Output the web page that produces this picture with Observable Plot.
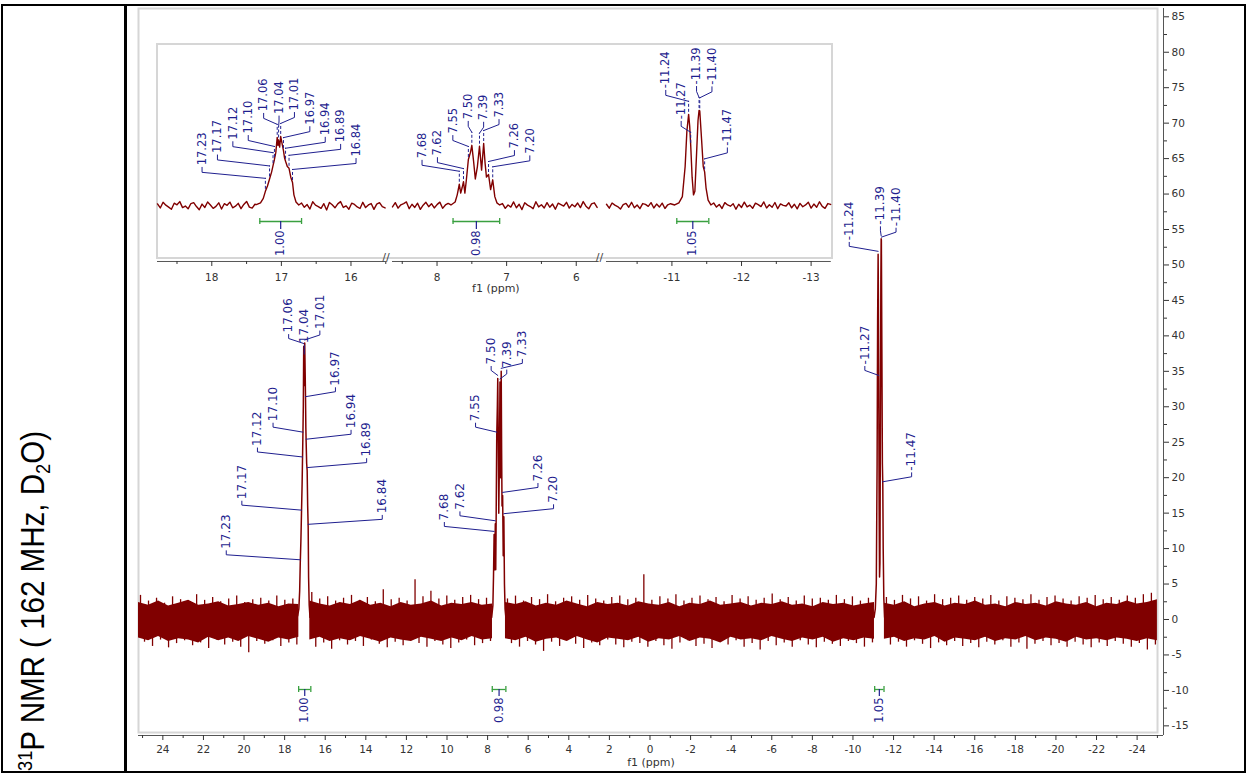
<!DOCTYPE html>
<html><head><meta charset="utf-8">
<script src="https://cdn.jsdelivr.net/npm/d3@7"></script>
<script src="https://cdn.jsdelivr.net/npm/@observablehq/plot@0.6"></script>
<style>
body{margin:0;background:#fff;}
#wrap{position:relative;width:1250px;height:776px;overflow:hidden;background:#fff;}
.abs{position:absolute;}
</style></head><body>
<div id="wrap">
  <div id="main" class="abs" style="left:0;top:0"></div>
  <div id="insetFrame" class="abs" style="left:156px;top:43px;width:677px;height:216px;border:2px solid #d6d6d6;background:#fff;box-sizing:border-box"></div>
  <div id="ins0" class="abs"></div>
  <div id="ins1" class="abs"></div>
  <div id="ins2" class="abs"></div>
  <svg class="abs" style="left:0;top:0" width="125" height="776">
    <text transform="translate(44,771) rotate(-90)" font-family="Liberation Sans, Arial, sans-serif" font-size="34" fill="#000" textLength="340" lengthAdjust="spacingAndGlyphs"><tspan font-size="21" dy="-12">31</tspan><tspan dy="12">P NMR ( 162 MHz, D</tspan><tspan font-size="21" dy="6">2</tspan><tspan dy="-6">O)</tspan></text>
  </svg>
  <div class="abs" style="left:1px;top:4px;width:1245px;height:769px;border:2.5px solid #000;box-sizing:border-box"></div>
  <div class="abs" style="left:124px;top:4px;width:2.5px;height:769px;background:#000"></div>
</div>
<script>
// ================= DATA =================
// Peak profiles (ppm, intensity)
const groupAPpm = [17.36, 17.30, 17.26, 17.23, 17.20, 17.17, 17.14, 17.12, 17.10, 17.08, 17.06, 17.05, 17.04, 17.025, 17.01, 16.99, 16.97, 16.955, 16.94, 16.915, 16.89, 16.865, 16.84, 16.82, 16.79, 16.75];
const groupAInt = [0.5, 1.5, 4, 8, 11, 15, 19, 22.5, 26, 30, 38.5, 34, 37, 33, 39, 35, 31, 27, 25, 22, 21, 16, 13, 6, 2, 0.3];
const groupBPpm = [7.80, 7.74, 7.71, 7.68, 7.66, 7.64, 7.62, 7.60, 7.58, 7.55, 7.52, 7.50, 7.475, 7.45, 7.42, 7.39, 7.36, 7.33, 7.31, 7.29, 7.26, 7.23, 7.20, 7.17, 7.14, 7.10];
const groupBInt = [0.3, 2, 6, 12, 7, 10, 13.5, 7, 14, 26, 30, 34, 25, 15, 22, 33.5, 20, 35, 24, 16, 17.5, 9, 14.5, 5, 1.5, 0.3];
const groupCPpm = [-11.04, -11.10, -11.15, -11.19, -11.215, -11.24, -11.255, -11.27, -11.29, -11.31, -11.33, -11.355, -11.375, -11.39, -11.40, -11.425, -11.45, -11.47, -11.49, -11.52, -11.56];
const groupCInt = [0.3, 1.5, 5, 22, 42, 51.5, 45, 34, 16, 6, 8, 30, 48, 53.7, 53.5, 38, 22, 19, 10, 3, 0.3];

// Peak labels (ppm)
const labelsA = [17.23, 17.17, 17.12, 17.10, 17.06, 17.04, 17.01, 16.97, 16.94, 16.89, 16.84];
const labelsB = [7.68, 7.62, 7.55, 7.50, 7.39, 7.33, 7.26, 7.20];
const labelsC = [-11.24, -11.27, -11.39, -11.40, -11.47];

// Integrals
const integralFrom = [17.31, 7.77, -11.07];
const integralTo = [16.71, 7.10, -11.53];
const integralValue = [1.00, 0.98, 1.05];

// Baseline noise of the full spectrum, per segment between peaks: core envelope
const noiseStart = [25.2, 16.76, 7.12, -11.55];
const noiseEnd = [17.30, 7.76, -11.06, -25.0];
const noiseHi1 = [2.4, 2.0, 2.6, 1.9, 2.3, 2.7, 2.0, 2.2, 2.5, 1.9, 2.1, 2.4, 2.0, 2.3, 1.8, 2.2, 2.1];
const noiseLo1 = [-2.6, -3.0, -2.4, -3.1, -2.7, -2.9, -3.3, -2.5, -3.0, -2.6, -3.1, -2.4, -2.8, -3.2, -2.6, -2.9, -2.5];
const noiseHi2 = [2.6, 2.2, 1.9, 2.4, 2.1, 2.7, 2.0, 2.3, 1.8, 2.4, 2.0, 2.2, 2.6, 1.9, 2.3, 2.1, 2.4, 2.0, 2.2];
const noiseLo2 = [-2.9, -2.5, -3.1, -2.7, -3.0, -2.4, -2.8, -3.2, -2.6, -2.9, -3.1, -2.5, -2.8, -3.1, -2.6, -3.0, -2.4, -2.9, -2.7];
const noiseHi3 = [2.4, 2.1, 2.5, 1.9, 2.3, 2.0, 2.6, 2.2, 1.8, 2.4, 2.1, 2.3, 1.9, 2.5, 2.2, 2.0, 2.4, 1.8, 2.3, 2.1, 2.6, 2.0, 2.2, 2.4, 1.9, 2.3, 2.1, 2.5, 2.0, 2.2, 1.8, 2.4, 2.1, 2.3, 1.9, 2.2, 2.4];
const noiseLo3 = [-2.7, -3.0, -2.5, -3.2, -2.8, -2.6, -3.1, -2.4, -2.9, -3.3, -2.6, -2.8, -3.0, -2.5, -3.2, -2.7, -2.9, -2.4, -3.1, -2.6, -2.8, -3.3, -2.5, -2.9, -2.7, -3.0, -2.4, -2.8, -3.1, -2.6, -2.9, -2.5, -3.2, -2.7, -3.0, -2.6, -2.8];
const noiseHi4 = [2.3, 2.0, 2.5, 1.8, 2.2, 2.4, 1.9, 2.3, 2.1, 2.6, 2.0, 2.2, 1.8, 2.4, 2.1, 2.3, 1.9, 2.5, 2.2, 2.0, 2.4, 1.8, 2.3, 2.1, 2.6, 2.2, 2.4, 2.8];
const noiseLo4 = [-2.8, -2.5, -3.1, -2.7, -2.9, -2.4, -3.2, -2.6, -2.8, -3.0, -2.5, -3.1, -2.7, -2.9, -2.4, -3.0, -2.6, -2.8, -3.2, -2.5, -2.9, -2.7, -3.0, -2.6, -2.8, -3.1, -2.7, -3.0];
// Noise spikes (up / down) per segment, evenly spread along each segment
const spikeUp1 = [3.4, 2.6, 3.0, 2.3, 3.2, 2.8, 2.4, 3.5, 2.7, 3.1, 2.5, 2.9, 3.3, 2.4, 2.8, 3.0, 2.6, 3.3, 2.7, 2.9];
const spikeDn1 = [-3.2, -3.8, -2.9, -4.0, -3.4, -3.0, -3.7, -3.3, -4.1, -2.9, -3.6, -3.2, -3.9, -4.7, -3.1, -3.5, -3.0, -3.8, -3.3, -3.6];
const spikeUp2 = [3.8, 2.9, 3.2, 2.6, 3.0, 3.4, 2.7, 3.1, 2.5, 4.2, 2.8, 3.0, 2.6, 5.6, 3.2, 4.0, 2.9, 3.3, 2.7, 3.1, 3.4, 2.8, 3.0];
const spikeDn2 = [-3.9, -3.3, -4.2, -3.0, -3.6, -3.1, -3.8, -2.9, -3.5, -4.0, -3.2, -3.7, -3.0, -3.4, -3.9, -3.1, -3.6, -4.1, -3.3, -2.9, -3.7, -3.4, -3.1];
const spikeUp3 = [2.9, 3.3, 2.6, 3.1, 2.8, 3.5, 2.5, 3.0, 3.2, 2.7, 3.4, 2.9, 2.6, 3.1, 3.3, 2.8, 3.0, 6.3, 2.7, 3.2, 2.9, 3.5, 2.6, 3.0, 3.3, 2.8, 3.1, 2.5, 3.4, 2.9, 3.2, 2.7, 3.0, 3.6, 2.8, 3.1, 2.6, 3.3, 2.9, 3.0, 2.7, 3.4, 2.8, 3.2, 2.6, 3.0];
const spikeDn3 = [-3.4, -3.9, -3.1, -3.6, -4.5, -3.2, -3.8, -3.0, -3.5, -4.1, -3.3, -3.7, -2.9, -3.6, -4.0, -3.2, -3.4, -3.9, -3.1, -3.7, -4.2, -3.3, -3.0, -3.8, -3.5, -4.1, -3.2, -3.6, -3.0, -3.9, -3.4, -4.3, -3.1, -3.7, -3.3, -3.9, -3.0, -3.6, -4.0, -3.2, -3.5, -3.8, -3.1, -3.4, -3.9, -3.3];
const spikeUp4 = [3.1, 2.7, 3.4, 2.9, 3.2, 2.6, 3.5, 2.8, 3.0, 3.3, 2.7, 3.1, 2.9, 3.4, 2.6, 3.2, 3.0, 2.8, 3.5, 2.7, 3.1, 3.3, 2.9, 2.6, 3.2, 3.0, 3.4, 2.8, 3.1, 2.7, 3.3, 3.0, 3.5, 3.7];
const spikeDn4 = [-3.6, -3.2, -3.9, -3.0, -3.5, -4.1, -3.3, -3.7, -3.1, -3.8, -3.4, -4.0, -3.2, -3.6, -3.0, -3.9, -3.3, -4.2, -3.5, -3.1, -3.7, -3.4, -3.9, -3.2, -3.6, -4.0, -3.3, -3.8, -3.1, -3.5, -3.9, -3.4, -4.3, -3.6];

// Inset: expanded regions (ppm) and their baseline noise traces (0.04 ppm steps)
const insetStart = [18.78, 8.64, -10.06];
const insetEnd = [15.50, 5.67, -13.29];
const insetNoiseA1 = [0.9, -1.4, 1.8, 0.2, -0.9, -2.1, 1.3, 0.4, 2.2, -1.2, -0.3, -1.9, 1.1, 1.6, -0.6, -2.4, 0.8, -1.1, 2.0, 0.3, -1.6, -0.5, 1.5, -2.0, 1.0, 0.1, 1.9, -1.3, -0.4, 1.2, -1.8, 0.6, 2.3, -0.9, -1.5, 0.7];
const insetNoiseA2 = [1.4, -1.0, 0.5, -2.0, 2.1, 0.2, -0.6, -1.6, 1.0, -2.5, 1.7, 0.4, -1.3, 0.9, 2.2, -1.1, -0.2, -2.1, 1.3, 0.6, -0.8, -1.7, 1.8, -1.2, 0.3, 1.1, -2.2, 0.8, 1.6, -0.7, -1.4];
const insetNoiseB1 = [-0.8, 1.6, -1.5, 0.4, 1.1, 2.0, -1.8, 0.7, -1.1, 1.3, -2.2, 0.2, 1.8, -0.7, 1.0, -1.4, 0.5, 1.9, -1.6, 0.3, 1.2];
const insetNoiseB2 = [1.1, -1.6, 0.3, -0.9, 2.0, -1.3, 0.7, -2.3, 1.5, 0.2, -0.6, -1.8, 2.1, -0.8, 0.4, -1.4, 1.6, -1.0, 0.8, -2.1, 1.3, 0.5, -0.3, 1.8, -1.5, 0.6, -0.7, 1.4, -1.2, 2.2, -0.4, -1.9, 0.9, 1.5, -1.1];
const insetNoiseC1 = [0.7, -1.5, 1.4, 0.2, -0.6, -2.0, 0.5, 1.2, -1.0, 1.8, -1.3, 0.3, -1.8, 1.1, 0.6, -0.5, 1.6, -1.4, 0.8, -0.9, 1.3, -1.7, 0.4, 1.0];
const insetNoiseC2 = [1.4, -0.9, 0.6, -1.7, 1.6, 0.3, -0.4, 1.0, -2.1, 0.7, -1.1, 1.9, -0.8, 0.2, -1.6, 1.3, 0.5, -0.6, 2.0, -1.4, 0.4, -1.0, 1.7, -1.8, 0.9, 0.1, -0.3, 1.5, -1.3, 0.7, -1.9, 1.2, -0.7, 0.3, 1.8, -1.5, 0.8, -1.0, 2.1, -0.5, -1.6, 1.1, 0.6];

// Axis ticks
const xTicksMain = d3.range(-24, 25, 2);
const xMinorMain = d3.range(-25, 26, 2);
const yTicksMain = d3.range(-15, 86, 5);
const yMinorMain = d3.range(-12.5, 86, 5);

// ================= STYLE / LAYOUT =================
const RED = "#800000", BLUE = "#1f1f8f", GREEN = "#3aa040", AXIS = "#333";
const FONT = "DejaVu Sans, Verdana, sans-serif";
const fmt = v => String(v);

const groups = [
  {ppm: groupAPpm, int: groupAInt, labels: labelsA},
  {ppm: groupBPpm, int: groupBInt, labels: labelsB},
  {ppm: groupCPpm, int: groupCInt, labels: labelsC}
];
const heightAt = (g, p) => g.int[g.ppm.findIndex(v => Math.abs(v - p) < 1e-9)];

function buildLabels(gi, pxX, pxY, o) {
  const g = groups[gi], n = g.labels.length, c = d3.mean(g.labels);
  const texts = [], leaders = [], stems = [];
  g.labels.forEach((p, i) => {
    const h = heightAt(g, p);
    const lx = c - (i - (n - 1) / 2) * o.spacing / pxX;
    const u = px => h + px / pxY;
    const k = gi + "-" + i;
    texts.push({x: lx, y: u(o.text), t: p.toFixed(2)});
    leaders.push({x: p, y: u(o.lead0), k}, {x: lx, y: u(o.lead1), k}, {x: lx, y: u(o.hook), k});
    if (o.stem) stems.push({x: p, y1: u(2), y2: u(o.lead0)});
  });
  return {texts, leaders, stems};
}

function integralMarks(idx, pxY, level, textGap, stemLen) {
  const rows = idx.map(i => ({a: integralFrom[i], b: integralTo[i], c: (integralFrom[i] + integralTo[i]) / 2, v: integralValue[i].toFixed(2)}));
  const cap = 3 / pxY;
  return [
    Plot.ruleY(rows, {x1: "a", x2: "b", y: level, stroke: GREEN, strokeWidth: 1.3}),
    Plot.ruleX(rows, {x: "a", y1: level - cap, y2: level + cap, stroke: GREEN, strokeWidth: 1.3}),
    Plot.ruleX(rows, {x: "b", y1: level - cap, y2: level + cap, stroke: GREEN, strokeWidth: 1.3}),
    Plot.ruleX(rows, {x: "c", y1: level, y2: level - stemLen / pxY, stroke: BLUE, strokeWidth: 1.2}),
    Plot.text(rows, {x: "c", y: level - textGap / pxY, text: "v", rotate: -90, textAnchor: "end", fill: BLUE, fontSize: 11.5, fontFamily: FONT})
  ];
}

// ================= MAIN SPECTRUM =================
{
  const left = 138, right = 1163, top = 8, bottom = 735;
  const xDom = [25.2, -25.3], yDom = [-16.36, 86.17];
  const pxX = (right - left) / (xDom[0] - xDom[1]);
  const pxY = (bottom - top) / (yDom[1] - yDom[0]);

  const his = [noiseHi1, noiseHi2, noiseHi3, noiseHi4], los = [noiseLo1, noiseLo2, noiseLo3, noiseLo4];
  const noise = his.flatMap((hi, s) => hi.map((h, k) => ({
    ppm: noiseStart[s] + (noiseEnd[s] - noiseStart[s]) * k / (hi.length - 1), hi: h, lo: los[s][k], s
  })));
  const ups = [spikeUp1, spikeUp2, spikeUp3, spikeUp4], dns = [spikeDn1, spikeDn2, spikeDn3, spikeDn4];
  const spikes = [];
  ups.forEach((arr, s) => {
    const step = (noiseEnd[s] - noiseStart[s]) / arr.length;
    arr.forEach((v, k) => spikes.push({p: noiseStart[s] + step * (k + 0.25), v}));
    dns[s].forEach((v, k) => spikes.push({p: noiseStart[s] + step * (k + 0.75), v}));
  });
  const profile = groups.flatMap((g, gi) => g.ppm.map((p, i) => ({p, v: g.int[i], gi})));

  const lab = [0, 1, 2].map(gi => buildLabels(gi, pxX, pxY, {spacing: 15.6, lead0: 3, lead1: 8, hook: 12, text: 14}));
  const texts = lab.flatMap(d => d.texts), leaders = lab.flatMap(d => d.leaders);
  const intLevel = yDom[0] + 46 / pxY;

  const chart = Plot.plot({
    width: 1250, height: 776,
    marginLeft: left, marginRight: 1250 - right, marginTop: top, marginBottom: 776 - bottom,
    x: {domain: xDom}, y: {domain: yDom},
    style: {background: "transparent", color: AXIS, fontFamily: FONT, fontSize: "10.5px", overflow: "visible"},
    marks: [
      Plot.frame({stroke: "#d6d6d6", strokeWidth: 2, insetRight: 6, insetBottom: 3}),
      Plot.areaY(noise, {x: "ppm", y1: "lo", y2: "hi", z: "s", fill: RED}),
      Plot.ruleX(spikes, {x: "p", y1: 0, y2: "v", stroke: RED, strokeWidth: 1.3}),
      Plot.line(profile, {x: "p", y: "v", z: "gi", stroke: RED, strokeWidth: 1.5}),
      Plot.line(leaders, {x: "x", y: "y", z: "k", stroke: BLUE, strokeWidth: 1}),
      Plot.text(texts, {x: "x", y: "y", text: "t", rotate: -90, textAnchor: "start", fill: BLUE, fontSize: 12, fontFamily: FONT}),
      ...integralMarks([0, 1, 2], pxY, intLevel, 8, 7),
      Plot.ruleY([yDom[0]], {stroke: "#555", strokeWidth: 1}),
      Plot.ruleX([xDom[1]], {stroke: "#555", strokeWidth: 1}),
      Plot.axisX({anchor: "bottom", ticks: xTicksMain, tickSize: 5, tickPadding: 5, tickFormat: fmt, label: null}),
      Plot.axisX({anchor: "bottom", ticks: xMinorMain, tickSize: 3, tickFormat: () => "", label: null}),
      Plot.axisY({anchor: "right", ticks: yTicksMain, tickSize: 5, tickPadding: 3, tickFormat: fmt, label: null}),
      Plot.axisY({anchor: "right", ticks: yMinorMain, tickSize: 3, tickFormat: () => "", label: null}),
      Plot.text(["f1 (ppm)"], {frameAnchor: "bottom", dy: 30, fontSize: 11, fill: AXIS, fontFamily: FONT})
    ]
  });
  document.getElementById("main").append(chart);
}

// ================= INSET (expanded regions) =================
{
  const pxPerPpm = 69.6, gap = 7, insetLeft0 = 156.7, insetTop = 44, insetH = 256, axisLine = 261;
  const baseline = 205, pxY = 1.77, step = 0.04;
  const plotH = axisLine - insetTop;
  const yDom = [-(plotH - (baseline - insetTop)) / pxY, (baseline - insetTop) / pxY];
  const noiseSets = [[insetNoiseA1, insetNoiseA2], [insetNoiseB1, insetNoiseB2], [insetNoiseC1, insetNoiseC2]];
  let leftPos = insetLeft0;
  [0, 1, 2].forEach(si => {
    const w = (insetStart[si] - insetEnd[si]) * pxPerPpm;
    const g = groups[si];
    const [n1, n2] = noiseSets[si];
    const pre = n1.map((v, k) => ({p: insetStart[si] - step * k, v}));
    const post = n2.map((v, k) => ({p: g.ppm[g.ppm.length - 1] - step * (k + 1), v}));
    const trace = [...pre, ...g.ppm.map((p, i) => ({p, v: g.int[i]})), ...post];
    const lab = buildLabels(si, pxPerPpm, pxY, {spacing: 15.4, lead0: 13, lead1: 19, hook: 24, text: 26, stem: true});
    const intLevel = (baseline - 221) / pxY;
    const lo = Math.ceil(insetEnd[si] * 2) / 2, hi = Math.floor(insetStart[si] * 2) / 2;
    const major = d3.range(Math.ceil(insetEnd[si]), Math.floor(insetStart[si]) + 1, 1);
    const minor = d3.range(lo, hi + 0.01, 0.5).filter(v => !Number.isInteger(v));
    const marks = [
      Plot.line(trace, {x: "p", y: "v", stroke: RED, strokeWidth: 1.4}),
      Plot.ruleX(lab.stems, {x: "x", y1: "y1", y2: "y2", stroke: BLUE, strokeWidth: 1, strokeDasharray: "3,2"}),
      Plot.line(lab.leaders, {x: "x", y: "y", z: "k", stroke: BLUE, strokeWidth: 1}),
      Plot.text(lab.texts, {x: "x", y: "y", text: "t", rotate: -90, textAnchor: "start", fill: BLUE, fontSize: 11.5, fontFamily: FONT}),
      ...integralMarks([si], pxY, intLevel, 9, 8),
      Plot.ruleY([yDom[0]], {stroke: "#555", strokeWidth: 1}),
      Plot.axisX({anchor: "bottom", ticks: major, tickSize: 5, tickPadding: 7, tickFormat: fmt, label: null}),
      Plot.axisX({anchor: "bottom", ticks: minor, tickSize: 3, tickFormat: () => "", label: null})
    ];
    if (si < 2) marks.push(Plot.text(["//"], {frameAnchor: "bottom-right", dx: 4, dy: 0, fontSize: 11, fill: "#444", fontFamily: FONT}));
    if (si === 1) marks.push(Plot.text(["f1 (ppm)"], {frameAnchor: "bottom", dy: 31, fontSize: 11, fill: AXIS, fontFamily: FONT}));
    const chart = Plot.plot({
      width: w, height: insetH,
      marginLeft: 0, marginRight: 0, marginTop: 0, marginBottom: insetH - plotH,
      x: {domain: [insetStart[si], insetEnd[si]]}, y: {domain: yDom, axis: null},
      style: {background: "transparent", color: AXIS, fontFamily: FONT, fontSize: "10.5px", overflow: "visible"},
      marks
    });
    const host = document.getElementById("ins" + si);
    host.style.left = leftPos + "px";
    host.style.top = insetTop + "px";
    host.append(chart);
    leftPos += w + gap;
  });
}
</script>
</body></html>
